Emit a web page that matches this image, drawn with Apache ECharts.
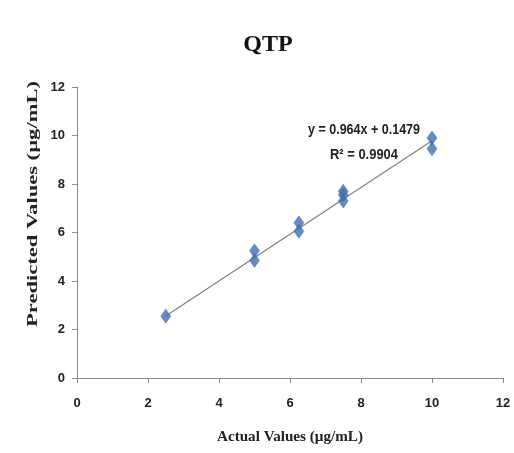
<!DOCTYPE html>
<html>
<head>
<meta charset="utf-8">
<script src="https://cdn.jsdelivr.net/npm/echarts@6/dist/echarts.min.js"></script>
<style>
  html, body { margin: 0; padding: 0; background: #fff; }
  #chart { width: 514px; height: 453px; }
</style>
</head>
<body>
<div id="chart"></div>
<script>
// Actual vs predicted concentrations (µg/mL)
const actualValues = [2.5, 5, 5, 6.25, 6.25, 7.5, 7.5, 7.5, 10, 10];
const predictedValues = [2.55, 5.25, 4.85, 6.4, 6.05, 7.7, 7.55, 7.3, 9.9, 9.45];

// Linear fit reported on the chart
const slope = 0.964;
const intercept = 0.1479;
const rSquared = 0.9904;
const fitRange = [2.5, 10];

const axisTicks = [0, 2, 4, 6, 8, 10, 12];

const titleText = 'QTP';
const xAxisTitle = 'Actual Values (µg/mL)';
const yAxisTitle = 'Predicted Values (µg/mL)';

const points = actualValues.map((x, i) => [x, predictedValues[i]]);
const fitLine = fitRange.map(x => [x, slope * x + intercept]);

// Horizontal stretch so a text run fills a given width
const measureCtx = document.createElement('canvas').getContext('2d');
function stretchTo(text, font, width) {
  measureCtx.font = font;
  return width / measureCtx.measureText(text).width;
}

const serifBold = 'bold 15px "Liberation Serif", "DejaVu Serif", serif';
const eqFont = 'bold 14px "Liberation Sans", sans-serif';
const eqText = 'y = ' + slope + 'x + ' + intercept;
const r2Text = 'R² = ' + rSquared;

const chart = echarts.init(document.getElementById('chart'));

const tickFont = {
  fontFamily: '"Liberation Sans", sans-serif',
  fontWeight: 'bold',
  fontSize: 13,
  color: '#222'
};

chart.setOption({
  animation: false,
  backgroundColor: '#fff',
  grid: { left: 77, right: 11, top: 87, bottom: 75 },
  xAxis: {
    type: 'value',
    min: axisTicks[0],
    max: axisTicks[axisTicks.length - 1],
    interval: 2,
    axisLine: { lineStyle: { color: '#8c8c8c', width: 1 } },
    axisTick: { show: true, inside: false, length: 5, lineStyle: { color: '#8c8c8c' } },
    axisLabel: Object.assign({ margin: 19 }, tickFont),
    splitLine: { show: false }
  },
  yAxis: {
    type: 'value',
    min: axisTicks[0],
    max: axisTicks[axisTicks.length - 1],
    interval: 2,
    axisLine: { show: true, lineStyle: { color: '#8c8c8c', width: 1 } },
    axisTick: { show: true, inside: false, length: 5, lineStyle: { color: '#8c8c8c' } },
    axisLabel: Object.assign({ margin: 12 }, tickFont),
    splitLine: { show: false }
  },
  series: [
    {
      type: 'line',
      data: fitLine,
      symbol: 'none',
      lineStyle: { color: '#7f7f7f', width: 1.2 },
      z: 1
    },
    {
      type: 'scatter',
      data: points,
      symbol: 'diamond',
      symbolSize: [10, 14],
      itemStyle: { color: '#3f6fb3', borderColor: '#34619f', borderWidth: 0.5 },
      z: 2
    }
  ],
  graphic: [
    {
      type: 'text',
      x: 268,
      y: 45,
      style: {
        text: titleText,
        font: 'bold 24px "Liberation Serif", "DejaVu Serif", serif',
        fill: '#111',
        align: 'center',
        verticalAlign: 'middle'
      }
    },
    {
      type: 'text',
      x: 290,
      y: 437,
      scaleX: stretchTo(xAxisTitle, serifBold, 146),
      style: {
        text: xAxisTitle,
        font: serifBold,
        fill: '#222',
        align: 'center',
        verticalAlign: 'middle'
      }
    },
    {
      type: 'text',
      x: 33,
      y: 204,
      rotation: Math.PI / 2,
      scaleX: stretchTo(yAxisTitle, serifBold, 246),
      style: {
        text: yAxisTitle,
        font: serifBold,
        fill: '#222',
        align: 'center',
        verticalAlign: 'middle'
      }
    },
    {
      type: 'text',
      x: 364,
      y: 130,
      scaleX: stretchTo(eqText, eqFont, 112),
      style: {
        text: eqText,
        font: eqFont,
        fill: '#222',
        align: 'center',
        verticalAlign: 'middle'
      }
    },
    {
      type: 'text',
      x: 364,
      y: 155,
      scaleX: stretchTo(r2Text, eqFont, 68),
      style: {
        text: r2Text,
        font: eqFont,
        fill: '#222',
        align: 'center',
        verticalAlign: 'middle'
      }
    }
  ]
});
</script>
</body>
</html>
